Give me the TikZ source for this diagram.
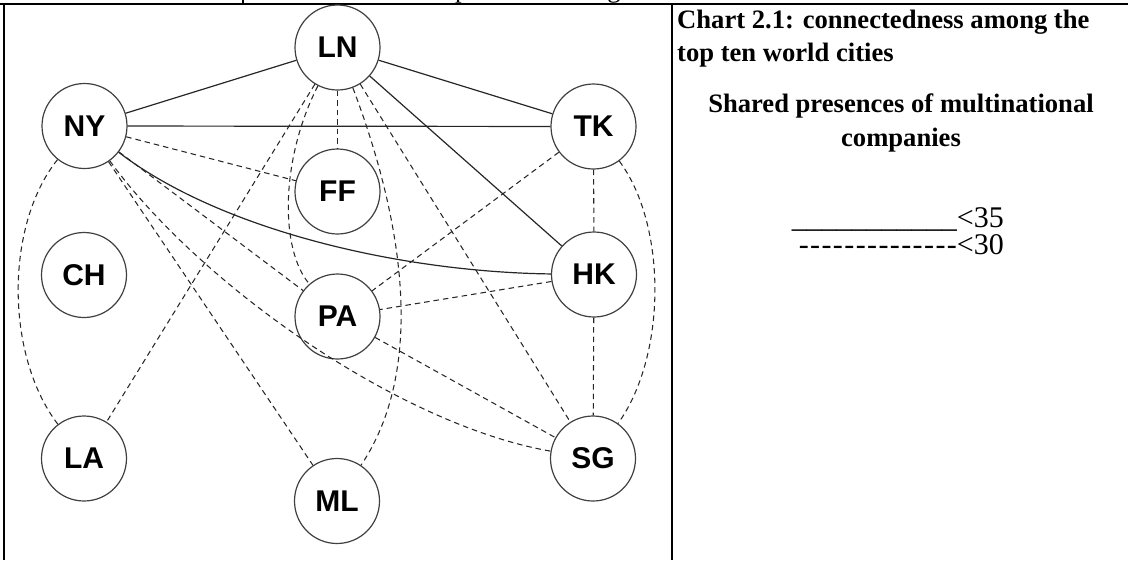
\documentclass[tikz,border=0pt]{standalone}
\usepackage{fontspec}
\setmainfont{Liberation Serif}
\newfontfamily\lblfont{Liberation Sans}
\newcommand{\hy}{-\kern1.4pt\relax}
\begin{document}
\begin{tikzpicture}[x=1pt,y=-1pt,
  city/.style={circle, draw=black!75, line width=1.2pt, minimum size=85pt, inner sep=0pt,
    font=\lblfont\bfseries\fontsize{30}{30}\selectfont},
  strong/.style={line width=1.2pt, draw=black!85},
  weak/.style={line width=1.05pt, draw=black!85, dash pattern=on 5.5pt off 4pt},
  rule/.style={line width=2pt, draw=black},
  headtext/.style={inner sep=0pt, font=\bfseries\fontsize{26.6}{30}\selectfont},
  legtext/.style={inner sep=0pt, text height=21pt, text depth=5pt, font=\fontsize{30}{30}\selectfont},
  fragtext/.style={inner sep=0pt, font=\fontsize{26.6}{30}\selectfont}]
\useasboundingbox (0,0) rectangle (1128,560);

% cut-off caption fragments above the table
\begin{scope}
\clip (0,0) rectangle (1128,3);
\node[fragtext, anchor=base west] (f1) at (455,-2.5) {p};
\node[fragtext, anchor=base] (f2) at (614,-2.5) {g};
\end{scope}

% table rules
\draw[rule] (0,3.7) -- (1128,3.7);
\draw[rule, line width=2.5pt] (4,3.7) -- (4,560);
\draw[rule] (672,3.7) -- (672,560);
\draw[rule] (243,0) -- (243,3.7);

% cities
\node[city] (LN) at (337.5,47.5) {LN};
\node[city] (NY) at (84.5,126) {NY};
\node[city] (TK) at (593.5,126.5) {TK};
\node[city] (FF) at (337.5,191.5) {FF};
\node[city] (CH) at (84,275) {CH};
\node[city] (HK) at (594,274.5) {HK};
\node[city] (PA) at (337.5,316.5) {PA};
\node[city] (LA) at (84,458.5) {LA};
\node[city] (SG) at (593,458.5) {SG};
\node[city] (ML) at (337,501) {ML};

% strong links
\draw[strong] (NY) -- (LN);
\draw[strong] (NY) -- (TK);
\draw[strong] (LN) -- (TK);
\draw[strong] (LN) -- (HK);
\draw[strong] (NY) .. controls (220,230) and (400,272) .. (HK);

% weak links
\draw[weak] (NY) -- (FF);
\draw[weak] (NY) -- (PA);
\draw[weak] (NY) -- (ML);
\draw[weak] (NY) .. controls (200,285) and (400,425) .. (SG);
\draw[weak] (NY) .. controls (5,225) and (5,355) .. (LA);
\draw[weak] (LN) -- (FF);
\draw[weak] (LN) -- (LA);
\draw[weak] (LN) -- (SG);
\draw[weak] (LN) .. controls (280,160) and (280,250) .. (PA);
\draw[weak] (LN) .. controls (405,225) and (425,370) .. (ML);
\draw[weak] (TK) -- (HK);
\draw[weak] (HK) -- (SG);
\draw[weak] (TK) -- (PA);
\draw[weak] (HK) -- (PA);
\draw[weak] (PA) -- (SG);
\draw[weak] (TK) .. controls (667,225) and (667,355) .. (SG);

% right-hand text
\node[headtext, anchor=base west] (t1) at (677,28) {Chart 2.1: connectedness among the};
\node[headtext, anchor=base west] (t2) at (677,61) {top ten world cities};
\node[headtext, anchor=base] (t3) at (901,112) {Shared presences of multinational};
\node[headtext, anchor=base] (t4) at (901,146) {companies};
\node[legtext, anchor=base east] (l1) at (1004,227) {\_\_\_\_\_\_\_\_\_\_\_<35};
\node[legtext, anchor=base east] (l2) at (1004,254) {\hy\hy\hy\hy\hy\hy\hy\hy\hy\hy\hy\hy\hy-<30};
\end{tikzpicture}
\end{document}
